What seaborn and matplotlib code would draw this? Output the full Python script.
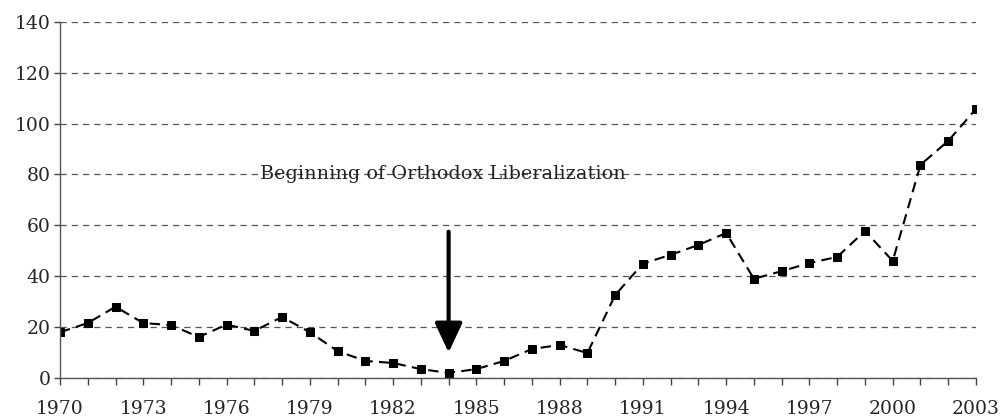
import matplotlib
matplotlib.use("Agg")
import matplotlib.pyplot as plt
import seaborn as sns
import pandas as pd

years = list(range(1970, 2004))
values = [18, 21.6, 28, 21.6, 20.8, 16.1, 21, 18.5, 24, 18,
          10.6, 6.7, 5.9, 3.5, 2, 3.5, 6.7, 11.4, 13, 9.8,
          32.6, 45, 48.4, 52.3, 57, 39, 42, 45.2, 47.6, 57.8,
          46, 83.8, 93.2, 105.8]
ytick_values = [0, 20, 40, 60, 80, 100, 120, 140]
xtick_labels = list(range(1970, 2004, 3))
annotation_text = "Beginning of Orthodox Liberalization"
arrow_year = 1984

df = pd.DataFrame({"year": years, "value": values})

sns.set_style("white")
plt.rcParams['font.family'] = ['DejaVu Serif']

fig = plt.figure(figsize=(10, 4.18), dpi=100)
ax = fig.add_axes([0.06, 0.0957, 0.916, 0.852])

sns.lineplot(data=df, x="year", y="value", ax=ax, color="black",
             linestyle=(0, (5, 3)), linewidth=1.5, marker="s",
             markersize=6, markeredgecolor="black", markerfacecolor="black")

ax.set_xlim(1970, 2003)
ax.set_ylim(0, 140)
ax.set_yticks(ytick_values)
ax.set_xticks(xtick_labels)
ax.set_xticks(years, minor=True)
ax.set_xticklabels([str(x) for x in xtick_labels], fontsize=13.5)
ax.set_yticklabels([str(v) for v in ytick_values], fontsize=13.5)
ax.tick_params(axis="x", which="both", direction="out", length=5, width=1,
               color="#444444", pad=11, bottom=True)
ax.tick_params(axis="y", which="major", direction="out", length=4, width=1,
               color="#444444", pad=3, left=True)
ax.set_xlabel("")
ax.set_ylabel("")
for s in ["top", "right"]:
    ax.spines[s].set_visible(False)
for s in ["left", "bottom"]:
    ax.spines[s].set_color("#555555")
    ax.spines[s].set_linewidth(1)

ax.yaxis.grid(True, linestyle=(0, (5, 4)), color="#555555", linewidth=0.9)
ax.xaxis.grid(False)
ax.set_axisbelow(True)

ax.text(1977.2, 80, annotation_text, fontsize=13.9, va="center", ha="left",
        color="#222222")
ax.annotate("", xy=(arrow_year, 10), xytext=(arrow_year, 57.5),
            arrowprops=dict(arrowstyle="-|>,head_width=0.42,head_length=0.9",
                            mutation_scale=20,
                            color="black", lw=3, shrinkA=0, shrinkB=0))

fig.savefig("out.png", dpi=100)
